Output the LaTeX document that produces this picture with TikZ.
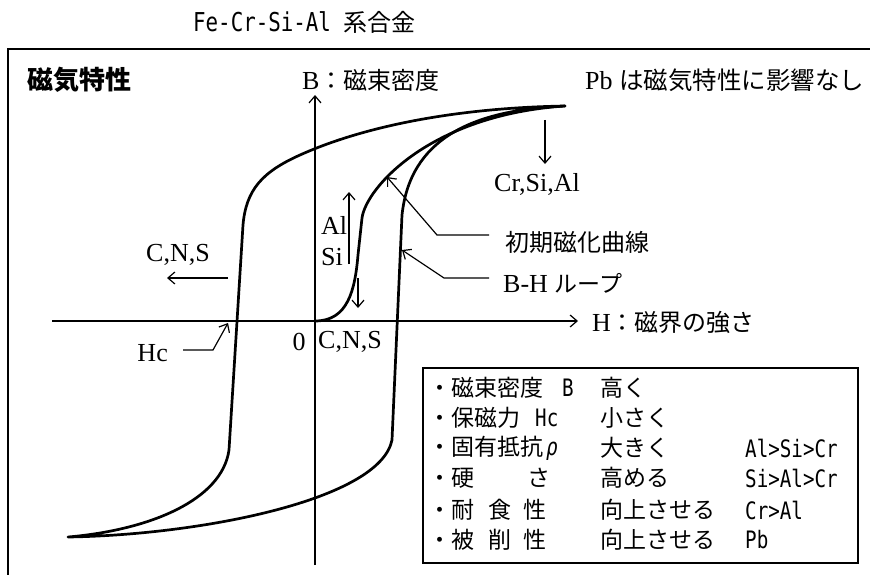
\documentclass[tikz,border=0pt]{standalone}
\usepackage{fontspec}
\setmainfont{Liberation Serif}
\newfontfamily\jp{Noto Sans CJK JP}
\newfontfamily\mono[FakeStretch=0.8]{DejaVu Sans Mono}
\usetikzlibrary{arrows.meta}
\tikzset{
  bhcurve/.style={line width=2.7pt, line join=round, line cap=round},
  axisline/.style={line width=1.2pt, -{Straight Barb[length=7pt,width=12pt,line width=1.2pt]}},
  leader/.style={line width=1.2pt, -{Straight Barb[length=7pt,width=12pt,line width=1.2pt]}},
  framestyle/.style={line width=1.4pt},
  lbl/.style={inner sep=0pt, font=\fontsize{26}{30}\selectfont},
  cell/.style={inner sep=0pt, anchor=west, font=\jp\fontsize{23}{26}\selectfont},
  mcell/.style={inner sep=0pt, anchor=west, font=\mono\fontsize{24}{28}\selectfont},
}
\newcommand{\mtxt}[1]{{\mono\fontsize{24}{28}\selectfont #1}}
\begin{document}
\begin{tikzpicture}[x=1pt,y=-1pt]
\useasboundingbox (0,0) rectangle (870,575);
% frame
\coordinate (fbl) at (8,575);
\coordinate (ftl) at (8,49);
\coordinate (ftr) at (870,49);
\draw[framestyle] (fbl) -- (ftl) -- (ftr);
% title and headers
\node[inner sep=0pt, anchor=west] (title) at (193,22) {{\mono\fontsize{26}{30}\selectfont Fe-Cr-Si-Al }{\jp\fontsize{24}{28}\selectfont 系合金}};
\node[inner sep=0pt, anchor=west, font=\jp\bfseries\fontsize{26}{30}\selectfont] (mag) at (27,80) {磁気特性};
\node[lbl, anchor=west] (Blab) at (302,80) {B{\jp\fontsize{24}{28}\selectfont ：磁束密度}};
\node[lbl, anchor=west] (Pblab) at (585,80) {Pb {\jp\fontsize{24.5}{28}\selectfont は磁気特性に影響なし}};
\node[lbl, anchor=west] (Hlab) at (592,322) {H{\jp\fontsize{24}{28}\selectfont ：磁界の強さ}};
% axes
\coordinate (O) at (315,321);
\coordinate (Bbot) at (315,565);
\coordinate (Btop) at (315,95);
\coordinate (Hl) at (52,321);
\coordinate (Hr) at (578,321);
\draw[axisline] (Bbot) -- (Btop);
\draw[axisline] (Hl) -- (Hr);
% hysteresis loop
\coordinate (T) at (565,106);
\coordinate (Bt) at (68,537);
\draw[bhcurve] (T) .. controls (450,108) and (360,128) .. (300,155)
  .. controls (262,172) and (246,190) .. (243,225)
  -- (229,450) .. controls (222,500) and (150,530) .. (Bt)
  .. controls (200,535) and (380,500) .. (392,440)
  -- (402,215) .. controls (410,140) and (470,110) .. (T);
% initial magnetization curve
\draw[bhcurve] (O) .. controls (348,321) and (355,290) .. (358,255)
  -- (362,218) .. controls (366,188) and (430,115) .. (T);
% labels on the graph
\node[lbl] (crsial) at (537,184) {Cr,Si,Al};
\coordinate (c1) at (545,120);
\coordinate (c2) at (545,164);
\draw[leader] (c1) -- (c2);
\node[inner sep=0pt, anchor=west, font=\jp\fontsize{24}{28}\selectfont] (init) at (505,242) {初期磁化曲線};
\coordinate (i1) at (489,235);
\coordinate (i2) at (437,235);
\coordinate (i3) at (387,177);
\draw[leader] (i1) -- (i2) -- (i3);
\node[lbl, anchor=west] (bhloop) at (503,283) {B-H {\jp\fontsize{23}{28}\selectfont ループ}};
\coordinate (b1) at (489,278);
\coordinate (b2) at (444,278);
\coordinate (b3) at (402,250);
\draw[leader] (b1) -- (b2) -- (b3);
\node[lbl] (cnsL) at (178,255) {C,N,S};
\coordinate (l1) at (228,278);
\coordinate (l2) at (167,278);
\draw[leader] (l1) -- (l2);
\node[lbl, anchor=west] (al) at (321,225) {Al};
\node[lbl, anchor=west] (si) at (321,257) {Si};
\coordinate (a1) at (349,264);
\coordinate (a2) at (349,192);
\draw[leader] (a1) -- (a2);
\coordinate (s1) at (358,278);
\coordinate (s2) at (358,308);
\draw[leader] (s1) -- (s2);
\node[lbl] (zero) at (299,342) {0};
\node[lbl, anchor=west] (cnsR) at (318,342) {C,N,S};
\node[lbl, anchor=east] (hc) at (168,353) {Hc};
\coordinate (h1) at (183,350);
\coordinate (h2) at (213,350);
\coordinate (h3) at (228,323);
\draw[leader] (h1) -- (h2) -- (h3);
% property table
\node[draw, line width=1.2pt, minimum width=435pt, minimum height=195pt, inner sep=0pt] (tbl) at (640.5,465.5) {};
\node[cell] (r1a) at (428,388) {・磁束密度\hspace{19pt}\mtxt{B}};
\node[cell] (r2a) at (428,418) {・保磁力\hspace{15pt}\mtxt{Hc}};
\node[cell] (r3a) at (428,448) {・固有抵抗\hspace{3pt}\mtxt{\itshape ρ}};
\node[cell] (r4a) at (428,478) {・硬\hspace{53pt}さ};
\node[cell] (r5a) at (428,510) {・耐\hspace{14pt}食\hspace{12pt}性};
\node[cell] (r6a) at (428,540) {・被\hspace{14pt}削\hspace{12pt}性};
\node[cell] (r1b) at (600,388) {高く};
\node[cell] (r2b) at (600,418) {小さく};
\node[cell] (r3b) at (600,448) {大きく};
\node[cell] (r4b) at (600,478) {高める};
\node[cell] (r5b) at (600,510) {向上させる};
\node[cell] (r6b) at (600,540) {向上させる};
\node[mcell] (r3c) at (745,448) {Al>Si>Cr};
\node[mcell] (r4c) at (745,478) {Si>Al>Cr};
\node[mcell] (r5c) at (745,510) {Cr>Al};
\node[mcell] (r6c) at (745,540) {Pb};
\end{tikzpicture}
\end{document}
